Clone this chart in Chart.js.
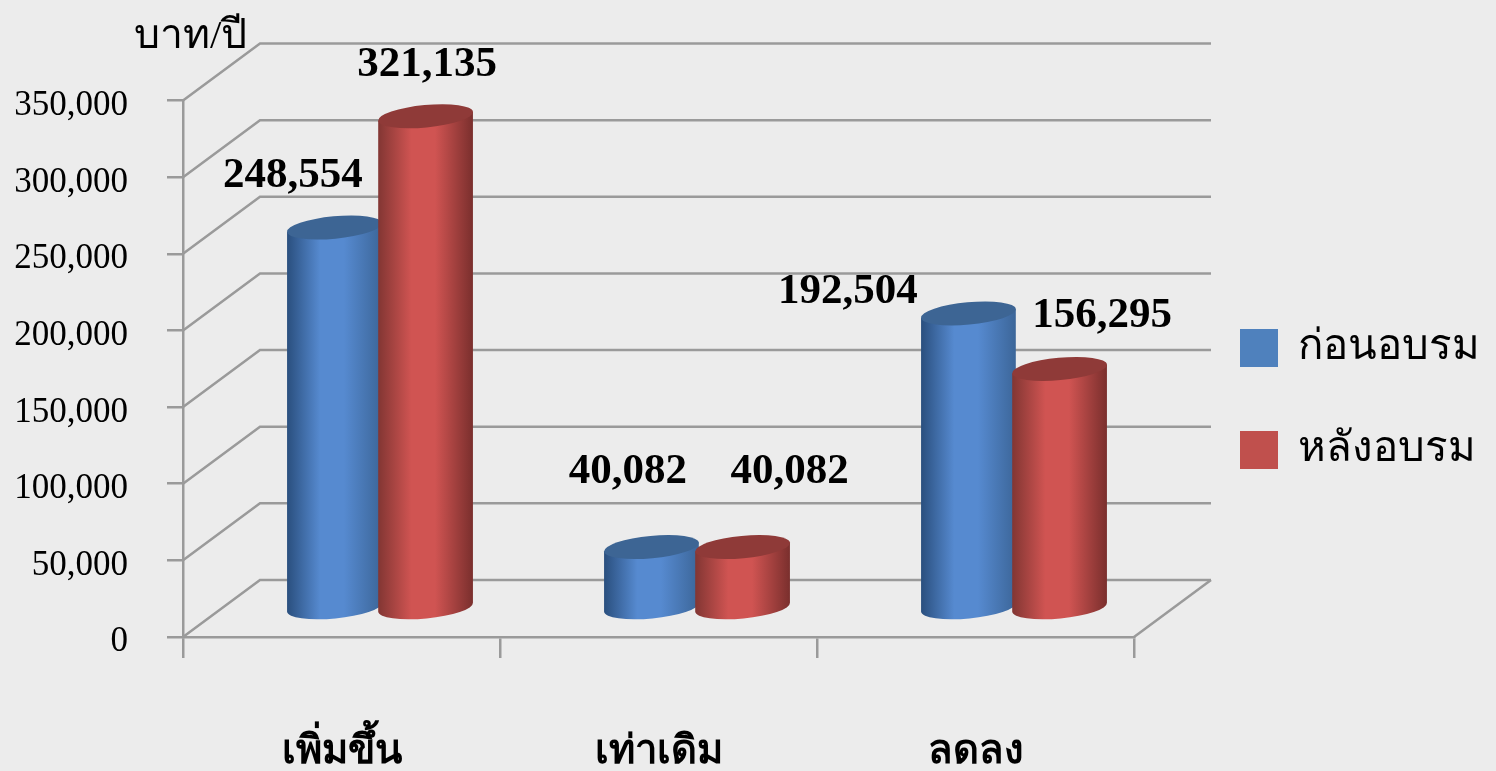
<!DOCTYPE html>
<html>
<head>
<meta charset="utf-8">
<style>
html, body { margin: 0; padding: 0; background: #ececec; overflow: hidden; }
canvas { display: block; filter: blur(0.5px); }
</style>
<script src="https://cdn.jsdelivr.net/npm/chart.js@4/dist/chart.umd.min.js"></script>
</head>
<body>
<canvas id="chart" width="1496" height="771"></canvas>
<script>
const categories = ['เพิ่มขึ้น', 'เท่าเดิม', 'ลดลง'];
const seriesNames = ['ก่อนอบรม', 'หลังอบรม'];
const beforeValues = [248554, 40082, 192504];
const afterValues = [321135, 40082, 156295];
const yTicks = [0, 50000, 100000, 150000, 200000, 250000, 300000, 350000];
const yUnit = 'บาท/ปี';

const SERIF = '"Liberation Serif", "Noto Sans", serif';
const GRID = '#9a9a9a';
const DEPTH_X = 77;
const DEPTH_Y = 57;
const RX_TILT = -0.094; // cylinder caps lean up to the right
const RY = 11.2;
const COLORS = [
    { dark: '#2a4f7e', mid: '#568ad0', end: '#3c6699', top: '#3d6594', legend: '#4f81bd' },
    { dark: '#823633', mid: '#d05452', end: '#7a2f2d', top: '#8f3a38', legend: '#c0504d' }
];
// data labels were placed by hand in the original, offset from each bar top
const labelOffsets = [
    [[-3, -80], [15, -104], [-82, -50]],
    [[40, -80], [85.5, -104], [81, -82]]
];

function fmt(v) { return v.toLocaleString('en-US'); }

const depthPlugin = {
    id: 'depth',
    beforeDatasetsDraw(chart) {
        const ctx = chart.ctx, x = chart.scales.x, y = chart.scales.y;
        ctx.save();
        ctx.strokeStyle = GRID;
        ctx.lineWidth = 2.5;
        yTicks.forEach(v => {
            const py = y.getPixelForValue(v);
            ctx.beginPath();
            ctx.moveTo(x.left, py);
            ctx.lineTo(x.left + DEPTH_X, py - DEPTH_Y);
            ctx.lineTo(x.right + DEPTH_X, py - DEPTH_Y);
            ctx.stroke();
        });
        const py0 = y.getPixelForValue(0);
        ctx.beginPath();
        ctx.moveTo(x.right, py0);
        ctx.lineTo(x.right + DEPTH_X, py0 - DEPTH_Y);
        ctx.stroke();
        ctx.restore();
    },
    afterDatasetsDraw(chart) {
        const ctx = chart.ctx;
        [0, 1].forEach(di => {
            chart.getDatasetMeta(di).data.forEach(bar => {
                const cx = bar.x + DEPTH_X / 2;
                const topY = bar.y - DEPTH_Y / 2;
                const baseY = bar.base - DEPTH_Y / 2;
                const rx = bar.width / 2;
                const ex = rx * Math.cos(RX_TILT);
                const ey = rx * Math.sin(RX_TILT);
                const c = COLORS[di];
                const g = ctx.createLinearGradient(cx - ex, 0, cx + ex, 0);
                g.addColorStop(0, c.dark);
                g.addColorStop(0.35, c.mid);
                g.addColorStop(0.6, c.mid);
                g.addColorStop(1, c.end);
                ctx.save();
                ctx.fillStyle = g;
                ctx.beginPath();
                ctx.moveTo(cx - ex, topY - ey);
                ctx.lineTo(cx - ex, baseY - ey);
                ctx.ellipse(cx, baseY, rx, RY, RX_TILT, Math.PI, 0, true);
                ctx.lineTo(cx + ex, topY + ey);
                ctx.closePath();
                ctx.fill();
                ctx.fillStyle = c.top;
                ctx.beginPath();
                ctx.ellipse(cx, topY, rx, RY, RX_TILT, 0, Math.PI * 2);
                ctx.fill();
                ctx.restore();
            });
        });
    },
    afterDraw(chart) {
        const ctx = chart.ctx;
        ctx.save();
        ctx.fillStyle = '#000';
        ctx.textBaseline = 'middle';
        ctx.textAlign = 'center';
        ctx.font = 'bold 43px ' + SERIF;
        [beforeValues, afterValues].forEach((vals, di) => {
            const bars = chart.getDatasetMeta(di).data;
            vals.forEach((v, i) => {
                const off = labelOffsets[di][i];
                ctx.fillText(fmt(v), bars[i].x + off[0], bars[i].y + off[1]);
            });
        });
        ctx.textAlign = 'left';
        ctx.font = '41px ' + SERIF;
        ctx.fillText(yUnit, 134, 37);
        ctx.font = '42px ' + SERIF;
        seriesNames.forEach((name, di) => {
            const top = di === 0 ? 329 : 431;
            ctx.fillStyle = COLORS[di].legend;
            ctx.fillRect(1240, top, 38, 38);
            ctx.fillStyle = '#000';
            ctx.fillText(name, 1298, top + 19);
        });
        ctx.restore();
    }
};

new Chart(document.getElementById('chart'), {
    type: 'bar',
    data: {
        labels: categories,
        datasets: [
            { label: seriesNames[0], data: beforeValues, backgroundColor: 'transparent' },
            { label: seriesNames[1], data: afterValues, backgroundColor: 'transparent' }
        ]
    },
    options: {
        responsive: false,
        animation: false,
        layout: { padding: { left: 0, right: 362, top: 100.5, bottom: 0 } },
        plugins: { legend: { display: false }, tooltip: { enabled: false }, title: { display: false } },
        datasets: { bar: { categoryPercentage: 0.575, barPercentage: 1.044 } },
        scales: {
            x: {
                afterFit(scale) { scale.height = 134; },
                grid: { drawOnChartArea: false, color: GRID, lineWidth: 2.5, tickLength: 21 },
                border: { color: GRID, width: 2.5 },
                ticks: { color: '#000', font: { family: SERIF, size: 40, weight: 'bold' }, padding: 71, maxRotation: 0 }
            },
            y: {
                min: 0,
                max: 350000,
                afterFit(scale) { scale.width = 183; },
                afterBuildTicks(scale) { scale.ticks = yTicks.map(value => ({ value })); },
                grid: { drawOnChartArea: false, color: GRID, lineWidth: 2.5, tickLength: 16 },
                border: { color: GRID, width: 2.5 },
                // empty first line nudges the labels below their tick marks, as in the original
                ticks: { color: '#000', font: { family: SERIF, size: 35, lineHeight: 0.3 }, padding: 39, callback: v => ['', fmt(v)] }
            }
        }
    },
    plugins: [depthPlugin]
});
</script>
</body>
</html>
